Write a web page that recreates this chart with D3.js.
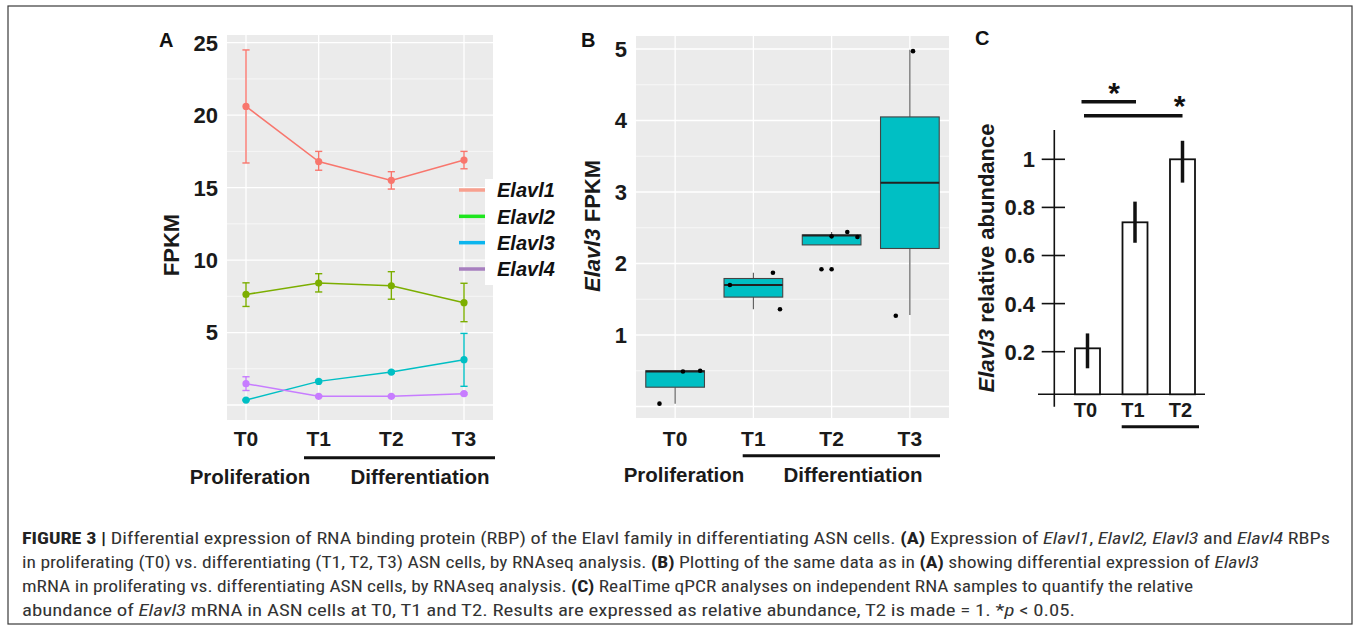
<!DOCTYPE html>
<html>
<head>
<meta charset="utf-8">
<script src="https://cdn.jsdelivr.net/npm/d3@7"></script>
<style>
html,body{margin:0;padding:0;background:#fff;}
svg{display:block;}
text{font-family:"Liberation Sans",Arial,sans-serif;}
</style>
</head>
<body>
<svg id="fig" width="1354" height="633"></svg>
<script>
// ---------------- DATA ----------------
const timepoints = ["T0", "T1", "T2", "T3"];
const genes = ["Elavl1", "Elavl2", "Elavl3", "Elavl4"];

// Panel A: mean FPKM and error-bar limits
const elavl1Mean = [20.6, 16.8, 15.5, 16.9];
const elavl1Low  = [16.7, 16.2, 14.9, 16.3];
const elavl1High = [24.5, 17.5, 16.1, 17.5];
const elavl2Mean = [7.63, 8.41, 8.23, 7.06];
const elavl2Low  = [6.8, 7.8, 7.3, 5.75];
const elavl2High = [8.43, 9.06, 9.2, 8.4];
const elavl3Mean = [0.34, 1.63, 2.27, 3.13];
const elavl3Low  = [0.3, 1.56, 2.2, 1.29];
const elavl3High = [0.38, 1.7, 2.34, 4.94];
const elavl4Mean = [1.47, 0.6, 0.6, 0.78];
const elavl4Low  = [1.0, 0.55, 0.55, 0.72];
const elavl4High = [1.95, 0.65, 0.65, 0.84];
const yTicksA = [5, 10, 15, 20, 25];

// Panel B: Elavl3 FPKM box statistics
const boxQ1     = [0.27, 1.53, 2.26, 2.21];
const boxMedian = [0.49, 1.70, 2.39, 3.13];
const boxQ3     = [0.50, 1.79, 2.40, 4.05];
const whiskLow  = [0.04, 1.36, 2.26, 1.28];
const whiskHigh = [0.50, 1.87, 2.44, 4.99];
// replicate points: group, value, jitter (fraction of category step)
const pointGroup  = ["T0","T0","T0","T1","T1","T1","T2","T2","T2","T2","T2","T3","T3"];
const pointValue  = [0.04, 0.49, 0.50, 1.70, 1.87, 1.36, 1.92, 1.92, 2.38, 2.44, 2.37, 4.97, 1.27];
const pointJitter = [-0.20, 0.10, 0.32, -0.30, 0.25, 0.34, -0.13, 0.0, 0.0, 0.20, 0.33, 0.04, -0.18];
const yTicksB = [1, 2, 3, 4, 5];

// Panel C: qPCR relative abundance
const qpcrGroups = ["T0", "T1", "T2"];
const qpcrValue  = [0.214, 0.738, 1.0];
const qpcrLow    = [0.131, 0.653, 0.903];
const qpcrHigh   = [0.276, 0.824, 1.077];
const yTicksC = [0.2, 0.4, 0.6, 0.8, 1];

// ---------------- DRAW ----------------
const svg = d3.select("#fig");
const BOLD = "700";
const bgGrey = "#EBEBEB";

// outer frame
svg.append("rect").attr("x", 8).attr("y", 6).attr("width", 1344).attr("height", 618)
  .attr("fill", "none").attr("stroke", "#3a3a3a").attr("stroke-width", 1.2);

// ====== Panel A ======
const A = {left: 227, right: 493, top: 35, bottom: 420};
const xA = d3.scalePoint().domain(timepoints).range([246, 464]);
const yA = d3.scaleLinear().domain([0, 25]).range([405, 42.7]);
const gA = svg.append("g");
gA.append("rect").attr("x", A.left).attr("y", A.top).attr("width", A.right - A.left)
  .attr("height", A.bottom - A.top).attr("fill", bgGrey);
gA.selectAll(".minA").data(d3.range(2.5, 25, 5)).join("line")
  .attr("x1", A.left).attr("x2", A.right).attr("y1", d => yA(d)).attr("y2", d => yA(d))
  .attr("stroke", "#fff").attr("stroke-width", 0.6);
gA.selectAll(".majA").data([0].concat(yTicksA)).join("line")
  .attr("x1", A.left).attr("x2", A.right).attr("y1", d => yA(d)).attr("y2", d => yA(d))
  .attr("stroke", "#fff").attr("stroke-width", 1.3);
gA.selectAll(".vA").data(timepoints).join("line")
  .attr("x1", d => xA(d)).attr("x2", d => xA(d)).attr("y1", A.top).attr("y2", A.bottom)
  .attr("stroke", "#fff").attr("stroke-width", 1.3);

const seriesA = [
  {name: "Elavl1", color: "#F8766D", mean: elavl1Mean, lo: elavl1Low, hi: elavl1High},
  {name: "Elavl2", color: "#7CAE00", mean: elavl2Mean, lo: elavl2Low, hi: elavl2High},
  {name: "Elavl3", color: "#00BFC4", mean: elavl3Mean, lo: elavl3Low, hi: elavl3High},
  {name: "Elavl4", color: "#C77CFF", mean: elavl4Mean, lo: elavl4Low, hi: elavl4High}
];
const lineGen = d3.line().x((d, i) => xA(timepoints[i])).y(d => yA(d));
seriesA.forEach(s => {
  const g = gA.append("g");
  g.append("path").attr("d", lineGen(s.mean)).attr("fill", "none")
    .attr("stroke", s.color).attr("stroke-width", 1.5);
  timepoints.forEach((t, i) => {
    const x = xA(t);
    g.append("line").attr("x1", x).attr("x2", x).attr("y1", yA(s.lo[i])).attr("y2", yA(s.hi[i]))
      .attr("stroke", s.color).attr("stroke-width", 1.4);
    [s.lo[i], s.hi[i]].forEach(v => g.append("line").attr("x1", x - 3.6).attr("x2", x + 3.6)
      .attr("y1", yA(v)).attr("y2", yA(v)).attr("stroke", s.color).attr("stroke-width", 1.4));
  });
  g.selectAll("circle").data(s.mean).join("circle")
    .attr("cx", (d, i) => xA(timepoints[i])).attr("cy", d => yA(d)).attr("r", 3.6)
    .attr("fill", s.color);
});

// legend A
const legendColors = ["#F8A08F", "#1EE61E", "#0BB5EE", "#A77FBF"];
const legY = d3.scalePoint().domain(genes).range([190, 269]);
gA.append("rect").attr("x", 485).attr("y", 179).attr("width", 80).attr("height", 106).attr("fill", "#fff");
genes.forEach((gname, i) => {
  gA.append("line").attr("x1", 459).attr("x2", 485).attr("y1", legY(gname)).attr("y2", legY(gname))
    .attr("stroke", legendColors[i]).attr("stroke-width", 3.5);
  gA.append("text").attr("x", 497).attr("y", legY(gname)).attr("dy", "0.36em")
    .attr("font-size", 20).attr("font-weight", BOLD).attr("font-style", "italic")
    .attr("fill", "#111").text(gname);
});

// axis labels A
gA.selectAll(".ytA").data(yTicksA).join("text")
  .attr("x", 218).attr("y", d => yA(d)).attr("dy", "0.36em").attr("text-anchor", "end")
  .attr("font-size", 22).attr("font-weight", BOLD).attr("fill", "#1a1a1a").text(d => d);
gA.selectAll(".xtA").data(timepoints).join("text")
  .attr("x", d => xA(d)).attr("y", 438).attr("dy", "0.36em").attr("text-anchor", "middle")
  .attr("font-size", 21).attr("font-weight", BOLD).attr("fill", "#1a1a1a").text(d => d);
gA.append("text").attr("transform", "translate(171,245) rotate(-90)").attr("dy", "0.36em")
  .attr("text-anchor", "middle").attr("font-size", 22).attr("font-weight", BOLD).attr("fill", "#1a1a1a").text("FPKM");
gA.append("text").attr("x", 159).attr("y", 40).attr("dy", "0.36em")
  .attr("font-size", 20).attr("font-weight", BOLD).attr("fill", "#111").text("A");
gA.append("line").attr("x1", 304).attr("x2", 495).attr("y1", 457.7).attr("y2", 457.7)
  .attr("stroke", "#111").attr("stroke-width", 3);
gA.append("text").attr("x", 250).attr("y", 476.5).attr("dy", "0.36em").attr("text-anchor", "middle")
  .attr("font-size", 20.5).attr("font-weight", BOLD).attr("fill", "#1a1a1a").text("Proliferation");
gA.append("text").attr("x", 420).attr("y", 476.5).attr("dy", "0.36em").attr("text-anchor", "middle")
  .attr("font-size", 20.5).attr("font-weight", BOLD).attr("fill", "#1a1a1a").text("Differentiation");

// ====== Panel B ======
const B = {left: 636, right: 949, top: 36, bottom: 418};
const xB = d3.scalePoint().domain(timepoints).range([B.left, B.right]).padding(0.5);
const yB = d3.scaleLinear().domain([0, 5]).range([406.5, 49]);
const stepB = xB.step();
const gB = svg.append("g");
gB.append("rect").attr("x", B.left).attr("y", B.top).attr("width", B.right - B.left)
  .attr("height", B.bottom - B.top).attr("fill", bgGrey);
gB.selectAll(".minB").data(d3.range(0.5, 5, 1)).join("line")
  .attr("x1", B.left).attr("x2", B.right).attr("y1", d => yB(d)).attr("y2", d => yB(d))
  .attr("stroke", "#fff").attr("stroke-width", 0.6);
gB.selectAll(".majB").data([0].concat(yTicksB)).join("line")
  .attr("x1", B.left).attr("x2", B.right).attr("y1", d => yB(d)).attr("y2", d => yB(d))
  .attr("stroke", "#fff").attr("stroke-width", 1.3);
gB.selectAll(".vB").data(timepoints).join("line")
  .attr("x1", d => xB(d)).attr("x2", d => xB(d)).attr("y1", B.top).attr("y2", B.bottom)
  .attr("stroke", "#fff").attr("stroke-width", 1.3);

const boxW = stepB * 0.75;
timepoints.forEach((t, i) => {
  const cx = xB(t);
  gB.append("line").attr("x1", cx).attr("x2", cx).attr("y1", yB(whiskHigh[i])).attr("y2", yB(boxQ3[i]))
    .attr("stroke", "#555").attr("stroke-width", 1.1);
  gB.append("line").attr("x1", cx).attr("x2", cx).attr("y1", yB(boxQ1[i])).attr("y2", yB(whiskLow[i]))
    .attr("stroke", "#555").attr("stroke-width", 1.1);
  gB.append("rect").attr("x", cx - boxW / 2).attr("y", yB(boxQ3[i])).attr("width", boxW)
    .attr("height", yB(boxQ1[i]) - yB(boxQ3[i])).attr("fill", "#00BFC4")
    .attr("stroke", "#444").attr("stroke-width", 1.1);
  gB.append("line").attr("x1", cx - boxW / 2).attr("x2", cx + boxW / 2)
    .attr("y1", yB(boxMedian[i])).attr("y2", yB(boxMedian[i]))
    .attr("stroke", "#222").attr("stroke-width", 2);
});
gB.selectAll(".ptB").data(pointValue).join("circle")
  .attr("cx", (d, i) => xB(pointGroup[i]) + pointJitter[i] * stepB)
  .attr("cy", d => yB(d)).attr("r", 2.3).attr("fill", "#000");

gB.selectAll(".ytB").data(yTicksB).join("text")
  .attr("x", 627).attr("y", d => yB(d)).attr("dy", "0.36em").attr("text-anchor", "end")
  .attr("font-size", 22).attr("font-weight", BOLD).attr("fill", "#1a1a1a").text(d => d);
gB.selectAll(".xtB").data(timepoints).join("text")
  .attr("x", d => xB(d)).attr("y", 438).attr("dy", "0.36em").attr("text-anchor", "middle")
  .attr("font-size", 21).attr("font-weight", BOLD).attr("fill", "#1a1a1a").text(d => d);
const tB = gB.append("text").attr("transform", "translate(592,226) rotate(-90)").attr("dy", "0.36em")
  .attr("text-anchor", "middle").attr("font-size", 22).attr("font-weight", BOLD).attr("fill", "#1a1a1a");
tB.append("tspan").attr("font-style", "italic").text("Elavl3");
tB.append("tspan").text(" FPKM");
gB.append("text").attr("x", 581).attr("y", 40).attr("dy", "0.36em")
  .attr("font-size", 20).attr("font-weight", BOLD).attr("fill", "#111").text("B");
gB.append("line").attr("x1", 742.7).attr("x2", 940).attr("y1", 455.7).attr("y2", 455.7)
  .attr("stroke", "#111").attr("stroke-width", 3);
gB.append("text").attr("x", 684).attr("y", 474.5).attr("dy", "0.36em").attr("text-anchor", "middle")
  .attr("font-size", 20.5).attr("font-weight", BOLD).attr("fill", "#1a1a1a").text("Proliferation");
gB.append("text").attr("x", 853).attr("y", 474.5).attr("dy", "0.36em").attr("text-anchor", "middle")
  .attr("font-size", 20.5).attr("font-weight", BOLD).attr("fill", "#1a1a1a").text("Differentiation");

// ====== Panel C ======
const xC = d3.scalePoint().domain(qpcrGroups).range([1087.5, 1182.5]);
const yC = d3.scaleLinear().domain([0, 1]).range([399.8, 159.3]);
const baseY = 394.3; // drawn x-axis line
const barW = 25;
const gC = svg.append("g");
gC.append("line").attr("x1", 1054.3).attr("x2", 1054.3).attr("y1", 130).attr("y2", 406.7)
  .attr("stroke", "#111").attr("stroke-width", 1.6);
gC.append("line").attr("x1", 1038).attr("x2", 1205).attr("y1", baseY).attr("y2", baseY)
  .attr("stroke", "#111").attr("stroke-width", 1.6);
gC.selectAll(".tkC").data(yTicksC).join("line")
  .attr("x1", 1041.7).attr("x2", 1065).attr("y1", d => yC(d)).attr("y2", d => yC(d))
  .attr("stroke", "#111").attr("stroke-width", 1.6);
gC.selectAll(".ytC").data(yTicksC).join("text")
  .attr("x", 1035).attr("y", d => yC(d)).attr("dy", "0.36em").attr("text-anchor", "end")
  .attr("font-size", 22).attr("font-weight", BOLD).attr("fill", "#1a1a1a").text(d => d);
gC.selectAll(".barC").data(qpcrValue).join("rect")
  .attr("x", (d, i) => xC(qpcrGroups[i]) - barW / 2).attr("y", d => yC(d))
  .attr("width", barW).attr("height", d => baseY - yC(d))
  .attr("fill", "#fff").attr("stroke", "#111").attr("stroke-width", 1.8);
gC.selectAll(".errC").data(qpcrValue).join("line")
  .attr("x1", (d, i) => xC(qpcrGroups[i])).attr("x2", (d, i) => xC(qpcrGroups[i]))
  .attr("y1", (d, i) => yC(qpcrLow[i])).attr("y2", (d, i) => yC(qpcrHigh[i]))
  .attr("stroke", "#111").attr("stroke-width", 3.5);
gC.selectAll(".xtC").data(qpcrGroups).join("text")
  .attr("x", d => xC(d) - 2).attr("y", 409.5).attr("dy", "0.36em").attr("text-anchor", "middle")
  .attr("font-size", 20).attr("font-weight", BOLD).attr("fill", "#1a1a1a").text(d => d);
gC.append("line").attr("x1", 1121.7).attr("x2", 1199).attr("y1", 426.7).attr("y2", 426.7)
  .attr("stroke", "#111").attr("stroke-width", 3);
// significance
gC.append("line").attr("x1", xC("T0") - 6).attr("x2", xC("T1") + 1).attr("y1", 101.7).attr("y2", 101.7)
  .attr("stroke", "#111").attr("stroke-width", 3.5);
gC.append("line").attr("x1", xC("T0") - 3.5).attr("x2", xC("T2")).attr("y1", 115.7).attr("y2", 115.7)
  .attr("stroke", "#111").attr("stroke-width", 3.5);
gC.append("text").attr("x", 1114).attr("y", 103).attr("text-anchor", "middle")
  .attr("font-size", 30).attr("font-weight", BOLD).attr("fill", "#111").text("*");
gC.append("text").attr("x", 1179.5).attr("y", 116).attr("text-anchor", "middle")
  .attr("font-size", 30).attr("font-weight", BOLD).attr("fill", "#111").text("*");
const tC = gC.append("text").attr("transform", "translate(986,258) rotate(-90)").attr("dy", "0.36em")
  .attr("text-anchor", "middle").attr("font-size", 22).attr("font-weight", BOLD).attr("fill", "#1a1a1a");
tC.append("tspan").attr("font-style", "italic").text("Elavl3");
tC.append("tspan").text(" relative abundance");
gC.append("text").attr("x", 975).attr("y", 38).attr("dy", "0.36em")
  .attr("font-size", 20).attr("font-weight", BOLD).attr("fill", "#111").text("C");

// ====== Caption ======
const captionLines = [
  [["b","FIGURE 3 |"],["n"," Differential expression of RNA binding protein (RBP) of the Elavl family in differentiating ASN cells. "],["b","(A)"],["n"," Expression of "],["i","Elavl1"],["n",", "],["i","Elavl2, Elavl3"],["n"," and "],["i","Elavl4"],["n"," RBPs"]],
  [["n","in proliferating (T0) vs. differentiating (T1, T2, T3) ASN cells, by RNAseq analysis. "],["b","(B)"],["n"," Plotting of the same data as in "],["b","(A)"],["n"," showing differential expression of "],["i","Elavl3"]],
  [["n","mRNA in proliferating vs. differentiating ASN cells, by RNAseq analysis. "],["b","(C)"],["n"," RealTime qPCR analyses on independent RNA samples to quantify the relative"]],
  [["n","abundance of "],["i","Elavl3"],["n"," mRNA in ASN cells at T0, T1 and T2. Results are expressed as relative abundance, T2 is made = 1. *"],["i","p"],["n"," < 0.05."]]
];
const captionWidths = [1308, 1237, 1171, 1053];
const captionY = d3.scalePoint().domain(d3.range(captionLines.length)).range([538, 610]);
captionLines.forEach((segs, li) => {
  const t = svg.append("text").attr("x", 22).attr("y", captionY(li)).attr("dy", "0.36em")
    .attr("font-size", 17).attr("fill", "#333")
    .style("font-family", "'Liberation Sans Narrow','Roboto Condensed','Liberation Sans',sans-serif")
    .attr("textLength", captionWidths[li]).attr("lengthAdjust", "spacingAndGlyphs");
  segs.forEach(([k, s]) => {
    const sp = t.append("tspan").text(s);
    if (k === "b") sp.attr("font-weight", BOLD).attr("fill", "#222");
    if (k === "i") sp.attr("font-style", "italic");
  });
});
</script>
</body>
</html>
